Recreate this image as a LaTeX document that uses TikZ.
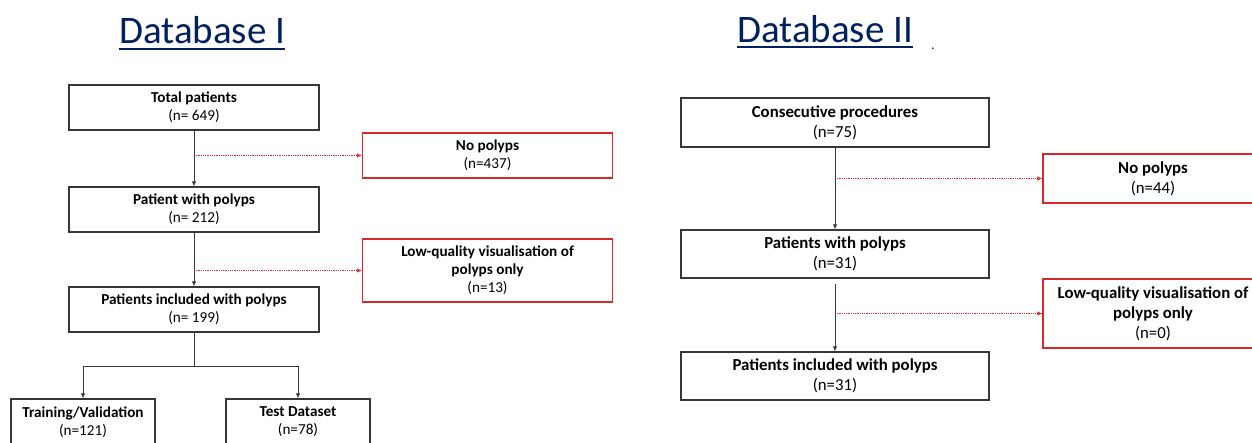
\documentclass[tikz,border=0pt]{standalone}
\usepackage{fontspec}
\setmainfont{Carlito}
\usetikzlibrary{arrows.meta}
\definecolor{navy}{RGB}{0,32,96}
\definecolor{boxgray}{RGB}{55,55,55}
\definecolor{exred}{RGB}{215,40,45}

\begin{document}
\begin{tikzpicture}[x=1pt,y=-1pt]
\tikzstyle{every node}+=[inner sep=0pt]
\tikzstyle{title}=[anchor=base west, text=navy, font=\fontsize{39}{39}\selectfont]
\tikzstyle{box}=[draw=boxgray, line width=1.2pt, align=center, font=\fontsize{15.2}{18}\selectfont]
\tikzstyle{boxr}=[box, font=\fontsize{16.8}{20}\selectfont]
\tikzstyle{exbox}=[box, draw=exred]
\tikzstyle{exboxr}=[boxr, draw=exred]
\tikzstyle{flow}=[draw=boxgray, line width=0.8pt, -{Latex[length=5pt,width=4.5pt]}]
\tikzstyle{drop}=[draw=exred, line width=0.8pt, densely dotted, -{Latex[length=5pt,width=4.5pt]}]
\useasboundingbox (0,0) rectangle (1252,442);
% Database I
\node[title] (t1) at (119,43) {Database I};
\draw[navy, line width=2pt] ([yshift=-6pt]t1.base west) -- ([yshift=-6pt]t1.base east);
\node[box, minimum width=250pt, minimum height=45pt] (tot) at (194,107.5) {\textbf{Total patients}\\(n= 649)};
\node[exbox, minimum width=250pt, minimum height=45pt] (np1) at (487.5,155.5) {\textbf{No polyps}\\(n=437)};
\node[box, minimum width=250pt, minimum height=45pt] (pw1) at (194,209.5) {\textbf{Patient with polyps}\\(n= 212)};
\node[exbox, minimum width=250pt, minimum height=63pt] (lq1) at (487.5,270.5) {\textbf{Low-quality visualisation of}\\\textbf{polyps only}\\(n=13)};
\node[box, minimum width=250pt, minimum height=45pt] (inc1) at (194,309.5) {\textbf{Patients included with polyps}\\(n= 199)};
\node[box, minimum width=144pt, minimum height=46pt] (train) at (83,422) {\textbf{Training/Validation}\\(n=121)};
\node[box, minimum width=144pt, minimum height=46pt] (test) at (298,422) {\textbf{Test Dataset}\\(n=78)};
\draw[flow] (tot) -- (pw1);
\draw[flow] (pw1) -- (inc1);
\draw[drop] (tot.south |- np1.west) -- (np1.west);
\draw[drop] (pw1.south |- lq1.west) -- (lq1.west);
\coordinate (split) at ([yshift=-34pt]inc1.south);
\draw[draw=boxgray, line width=0.8pt] (inc1.south) -- (split);
\draw[flow] (split) -| (train.north);
\draw[flow] (split) -| (test.north);
% Database II
\node[title] (t2) at (737,42) {Database II};
\draw[navy, line width=2pt] ([yshift=-5pt]t2.base west) -- ([yshift=-5pt]t2.base east);
\node[anchor=base, text=navy, font=\fontsize{14}{14}\selectfont] (dot) at (933,49) {.};
\node[boxr, minimum width=308pt, minimum height=49pt] (cons) at (835,122.5) {\textbf{Consecutive procedures}\\(n=75)};
\node[exboxr, minimum width=220pt, minimum height=49pt] (np2) at (1153,178.5) {\textbf{No polyps}\\(n=44)};
\node[boxr, minimum width=308pt, minimum height=48pt] (pw2) at (835,254) {\textbf{Patients with polyps}\\(n=31)};
\node[exboxr, minimum width=220pt, minimum height=69pt] (lq2) at (1153,313.5) {\textbf{Low-quality visualisation of}\\\textbf{polyps only}\\(n=0)};
\node[boxr, minimum width=308pt, minimum height=48pt] (inc2) at (835,376) {\textbf{Patients included with polyps}\\(n=31)};
\draw[flow] (cons) -- (pw2);
\draw[flow] ([yshift=-5pt]pw2.south) -- (inc2);
\draw[drop] (cons.south |- np2.west) -- (np2.west);
\draw[drop] (pw2.south |- lq2.west) -- (lq2.west);
\end{tikzpicture}
\end{document}
